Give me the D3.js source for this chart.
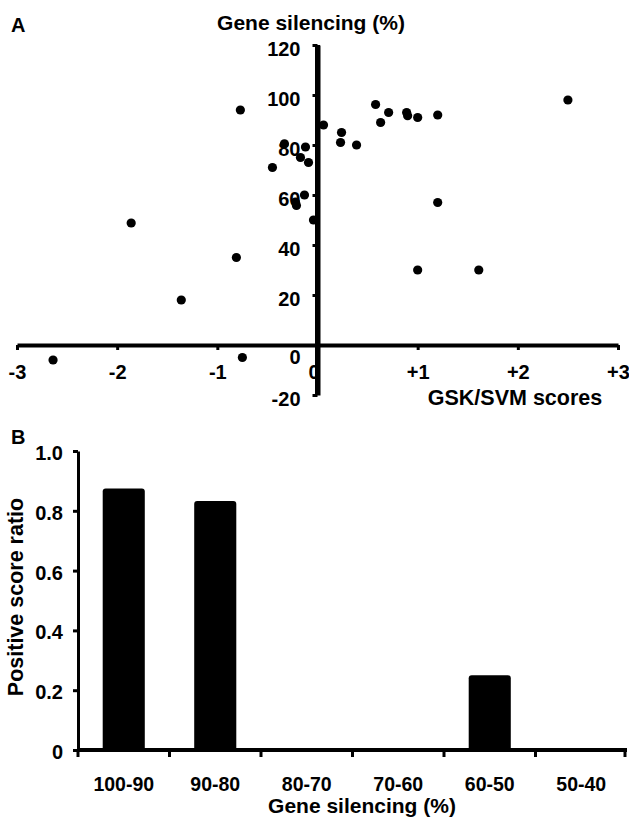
<!DOCTYPE html>
<html>
<head>
<meta charset="utf-8">
<script src="https://cdn.jsdelivr.net/npm/d3@7"></script>
<style>
  body { margin: 0; background: #fff; }
  text { font-family: "Liberation Sans", Arial, sans-serif; fill: #000; }
</style>
</head>
<body>
<div id="chart"></div>
<script>
// Panel A: GSK/SVM score vs gene silencing (%)
const scores = [-2.64, -1.86, -1.36, -0.81, -0.75, -0.77, -0.45, -0.33, -0.12, -0.17, -0.09, -0.13, -0.22, -0.21, -0.04,
                0.06, 0.24, 0.23, 0.39, 0.58, 0.63, 0.71, 0.89, 0.90, 1.00, 1.20, 1.20, 1.00, 1.61, 2.50];
const silencing = [-6.0, 48.8, 18.0, 35.0, -5.0, 94.0, 71.0, 80.5, 79.2, 75.0, 73.0, 60.0, 57.2, 55.8, 50.0,
                   88.0, 85.0, 81.0, 80.0, 96.2, 89.0, 93.0, 93.0, 91.7, 91.0, 92.0, 57.0, 30.0, 30.0, 98.0];
const scoreTicks = [-3, -2, -1, 0, 1, 2, 3];
const silencingTicks = [-20, 0, 20, 40, 60, 80, 100, 120];

// Panel B: ratio of positive scores per silencing bin
const bins = ["100-90", "90-80", "80-70", "70-60", "60-50", "50-40"];
const ratios = [0.875, 0.833, 0, 0, 0.25, 0];
const ratioTicks = [0, 0.2, 0.4, 0.6, 0.8, 1.0];

const width = 629, height = 819;

const svg = d3.select("#chart").append("svg")
    .attr("width", width)
    .attr("height", height);

// ---------- Panel A ----------
const xA = d3.scaleLinear().domain([-3, 3]).range([17, 618]);
const yA = d3.scaleLinear().domain([-20, 120]).range([395, 45]);

svg.append("text").attr("x", 11).attr("y", 32)
    .style("font-size", "20px").style("font-weight", "bold").text("A");

const yAxisA = svg.append("g")
    .attr("transform", `translate(${xA(0)},0)`)
    .call(d3.axisLeft(yA).tickValues(silencingTicks).tickSize(5).tickSizeOuter(0).tickPadding(12)
        .tickFormat(d => String(d)));
yAxisA.select(".domain").attr("stroke-width", 5);
yAxisA.selectAll(".tick line").attr("stroke-width", 3);
yAxisA.selectAll(".tick text")
    .style("font-size", "20px").style("font-weight", "bold").style("font-family", "Liberation Sans, Arial")
    .attr("y", d => d === 0 ? 12 : 4);

const xAxisA = svg.append("g")
    .attr("transform", `translate(0,${yA(0)})`)
    .call(d3.axisBottom(xA).tickValues(scoreTicks).tickSize(5).tickSizeOuter(0).tickPadding(15)
        .tickFormat(d => d > 0 ? "+" + d : String(d)));
xAxisA.select(".domain").attr("stroke-width", 4);
xAxisA.selectAll(".tick line").attr("stroke-width", 3);
xAxisA.selectAll(".tick text")
    .style("font-size", "20px").style("font-weight", "bold").style("font-family", "Liberation Sans, Arial")
    .attr("x", d => d === 0 ? -4 : 0);

// y axis drawn again on top so it covers the x "0" label like the original
svg.append("line")
    .attr("x1", xA(0)).attr("x2", xA(0))
    .attr("y1", yA(120)).attr("y2", yA(-20))
    .attr("stroke", "#000").attr("stroke-width", 5);

svg.append("g").selectAll("circle")
    .data(scores.map((s, i) => [s, silencing[i]]))
    .join("circle")
    .attr("cx", d => xA(d[0]))
    .attr("cy", d => yA(d[1]))
    .attr("r", 4.6)
    .attr("fill", "#000");

svg.append("text")
    .attr("x", 311).attr("y", 30)
    .attr("text-anchor", "middle")
    .style("font-size", "21px").style("font-weight", "bold")
    .text("Gene silencing (%)");

svg.append("text")
    .attr("x", 515).attr("y", 405)
    .attr("text-anchor", "middle")
    .style("font-size", "21.5px").style("font-weight", "bold")
    .text("GSK/SVM scores");

// ---------- Panel B ----------
const xB = d3.scaleBand().domain(bins).range([78, 627]).paddingInner(0.54).paddingOuter(0.27);
const yB = d3.scaleLinear().domain([0, 1]).range([750, 451]);

svg.append("text").attr("x", 11).attr("y", 444)
    .style("font-size", "20px").style("font-weight", "bold").text("B");

svg.append("g").selectAll("path")
    .data(bins.map((b, i) => ({ bin: b, value: ratios[i] })).filter(d => d.value > 0))
    .join("path")
    .attr("d", d => {
        const x0 = xB(d.bin), x1 = x0 + xB.bandwidth(), y0 = yB(0), y1 = yB(d.value), r = 3;
        return `M${x0},${y0}V${y1 + r}Q${x0},${y1} ${x0 + r},${y1}H${x1 - r}Q${x1},${y1} ${x1},${y1 + r}V${y0}Z`;
    })
    .attr("fill", "#000");

const yAxisB = svg.append("g")
    .attr("transform", `translate(78,0)`)
    .call(d3.axisLeft(yB).tickValues(ratioTicks).tickSize(5).tickSizeOuter(0).tickPadding(10)
        .tickFormat(d => d === 0 ? "0" : d3.format(".1f")(d)));
yAxisB.select(".domain").attr("stroke-width", 3);
yAxisB.selectAll(".tick line").attr("stroke-width", 3);
yAxisB.selectAll(".tick text")
    .style("font-size", "20px").style("font-weight", "bold").style("font-family", "Liberation Sans, Arial")
    .attr("y", 2);

// x axis of panel B with ticks on the bin borders
const edgesB = d3.range(bins.length + 1).map(i => 78 + i * xB.step());
svg.append("line")
    .attr("x1", 78).attr("x2", 627)
    .attr("y1", yB(0)).attr("y2", yB(0))
    .attr("stroke", "#000").attr("stroke-width", 4);
svg.append("g").selectAll("line")
    .data(edgesB)
    .join("line")
    .attr("x1", d => Math.min(d, 625)).attr("x2", d => Math.min(d, 625))
    .attr("y1", yB(0)).attr("y2", yB(0) + 7)
    .attr("stroke", "#000").attr("stroke-width", 3);

svg.append("g").selectAll("text")
    .data(bins)
    .join("text")
    .attr("x", d => xB(d) + xB.bandwidth() / 2)
    .attr("y", 791)
    .attr("text-anchor", "middle")
    .style("font-size", "19.5px").style("font-weight", "bold")
    .text(d => d);

svg.append("text")
    .attr("x", 362).attr("y", 813)
    .attr("text-anchor", "middle")
    .style("font-size", "21px").style("font-weight", "bold")
    .text("Gene silencing (%)");

svg.append("text")
    .attr("transform", "translate(23,597) rotate(-90)")
    .attr("text-anchor", "middle")
    .style("font-size", "21.5px").style("font-weight", "bold")
    .text("Positive score ratio");
</script>
</body>
</html>
